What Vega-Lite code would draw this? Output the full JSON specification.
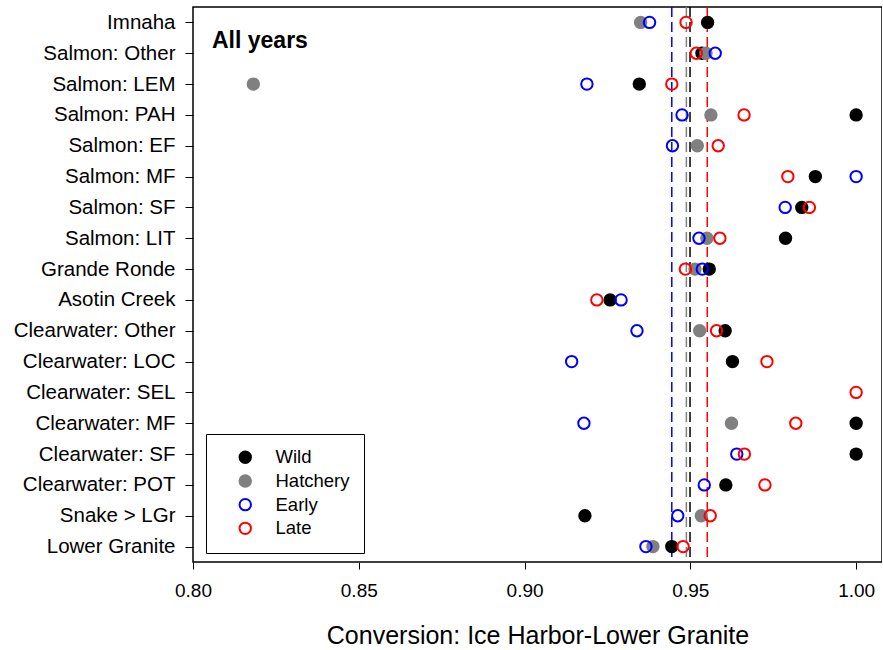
{
  "$schema": "https://vega.github.io/schema/vega-lite/v6.json",
  "width": 689,
  "height": 555,
  "autosize": {"type": "none"},
  "padding": {"left": 193, "top": 7, "right": 0, "bottom": 88},
  "background": "white",
  "config": {
    "font": "Liberation Sans",
    "view": {"stroke": "black", "strokeWidth": 1.5},
    "axis": {"grid": false, "domain": false, "tickColor": "black", "labelColor": "black", "titleColor": "black", "labelFont": "Liberation Sans", "titleFont": "Liberation Sans"},
    "legend": {"orient": "none", "legendX": 13, "legendY": 427, "strokeColor": "black", "padding": 14, "labelFontSize": 18.5, "labelColor": "black", "labelFont": "Liberation Sans", "symbolType": "circle", "symbolSize": 130, "symbolStrokeWidth": 2, "symbolOffset": 16, "labelOffset": 21, "rowPadding": 3.7}
  },
  "title": {"text": "All years", "anchor": "start", "frame": "group", "offset": 0, "dx": 19, "dy": 47, "fontSize": 23, "fontWeight": "bold", "font": "Liberation Sans", "color": "black", "baseline": "top"},
  "datasets": {
    "means": [
      {"series": "Early", "mean": 0.9444},
      {"series": "Hatchery", "mean": 0.9488},
      {"series": "Wild", "mean": 0.9499},
      {"series": "Late", "mean": 0.9551}
    ],
    "points": [
      {"site": "Imnaha", "group": "Wild", "value": 0.9552},
      {"site": "Imnaha", "group": "Hatchery", "value": 0.9350},
      {"site": "Imnaha", "group": "Early", "value": 0.9377},
      {"site": "Imnaha", "group": "Late", "value": 0.9487},
      {"site": "Salmon: Other", "group": "Wild", "value": 0.9535},
      {"site": "Salmon: Other", "group": "Hatchery", "value": 0.9547},
      {"site": "Salmon: Other", "group": "Early", "value": 0.9575},
      {"site": "Salmon: Other", "group": "Late", "value": 0.9518},
      {"site": "Salmon: LEM", "group": "Wild", "value": 0.9346},
      {"site": "Salmon: LEM", "group": "Hatchery", "value": 0.8182},
      {"site": "Salmon: LEM", "group": "Early", "value": 0.9188},
      {"site": "Salmon: LEM", "group": "Late", "value": 0.9444},
      {"site": "Salmon: PAH", "group": "Wild", "value": 1.0},
      {"site": "Salmon: PAH", "group": "Hatchery", "value": 0.9562},
      {"site": "Salmon: PAH", "group": "Early", "value": 0.9475},
      {"site": "Salmon: PAH", "group": "Late", "value": 0.9662},
      {"site": "Salmon: EF", "group": "Hatchery", "value": 0.9521},
      {"site": "Salmon: EF", "group": "Early", "value": 0.9446},
      {"site": "Salmon: EF", "group": "Late", "value": 0.9584},
      {"site": "Salmon: MF", "group": "Wild", "value": 0.9877},
      {"site": "Salmon: MF", "group": "Early", "value": 1.0},
      {"site": "Salmon: MF", "group": "Late", "value": 0.9794},
      {"site": "Salmon: SF", "group": "Wild", "value": 0.9836},
      {"site": "Salmon: SF", "group": "Early", "value": 0.9786},
      {"site": "Salmon: SF", "group": "Late", "value": 0.9859},
      {"site": "Salmon: LIT", "group": "Wild", "value": 0.9787},
      {"site": "Salmon: LIT", "group": "Hatchery", "value": 0.9550},
      {"site": "Salmon: LIT", "group": "Early", "value": 0.9526},
      {"site": "Salmon: LIT", "group": "Late", "value": 0.9589},
      {"site": "Grande Ronde", "group": "Wild", "value": 0.9557},
      {"site": "Grande Ronde", "group": "Hatchery", "value": 0.9514},
      {"site": "Grande Ronde", "group": "Early", "value": 0.9536},
      {"site": "Grande Ronde", "group": "Late", "value": 0.9485},
      {"site": "Asotin Creek", "group": "Wild", "value": 0.9258},
      {"site": "Asotin Creek", "group": "Early", "value": 0.9291},
      {"site": "Asotin Creek", "group": "Late", "value": 0.9218},
      {"site": "Clearwater: Other", "group": "Wild", "value": 0.9605},
      {"site": "Clearwater: Other", "group": "Hatchery", "value": 0.9528},
      {"site": "Clearwater: Other", "group": "Early", "value": 0.9339},
      {"site": "Clearwater: Other", "group": "Late", "value": 0.9579},
      {"site": "Clearwater: LOC", "group": "Wild", "value": 0.9627},
      {"site": "Clearwater: LOC", "group": "Early", "value": 0.9142},
      {"site": "Clearwater: LOC", "group": "Late", "value": 0.9731},
      {"site": "Clearwater: SEL", "group": "Late", "value": 1.0},
      {"site": "Clearwater: MF", "group": "Wild", "value": 1.0},
      {"site": "Clearwater: MF", "group": "Hatchery", "value": 0.9624},
      {"site": "Clearwater: MF", "group": "Early", "value": 0.9179},
      {"site": "Clearwater: MF", "group": "Late", "value": 0.9818},
      {"site": "Clearwater: SF", "group": "Wild", "value": 1.0},
      {"site": "Clearwater: SF", "group": "Early", "value": 0.9640},
      {"site": "Clearwater: SF", "group": "Late", "value": 0.9663},
      {"site": "Clearwater: POT", "group": "Wild", "value": 0.9607},
      {"site": "Clearwater: POT", "group": "Early", "value": 0.9542},
      {"site": "Clearwater: POT", "group": "Late", "value": 0.9725},
      {"site": "Snake > LGr", "group": "Wild", "value": 0.9182},
      {"site": "Snake > LGr", "group": "Hatchery", "value": 0.9533},
      {"site": "Snake > LGr", "group": "Early", "value": 0.9462},
      {"site": "Snake > LGr", "group": "Late", "value": 0.9560},
      {"site": "Lower Granite", "group": "Wild", "value": 0.9444},
      {"site": "Lower Granite", "group": "Hatchery", "value": 0.9387},
      {"site": "Lower Granite", "group": "Early", "value": 0.9366},
      {"site": "Lower Granite", "group": "Late", "value": 0.9478}
    ]
  },
  "layer": [
    {
      "data": {"name": "means"},
      "mark": {"type": "rule", "strokeDash": [10, 5], "strokeWidth": 1.5},
      "encoding": {
        "x": {"field": "mean", "type": "quantitative", "scale": {"domain": [0.8, 1.0078], "nice": false, "zero": false}},
        "color": {"field": "series", "type": "nominal", "scale": {"domain": ["Early", "Hatchery", "Wild", "Late"], "range": ["#0000ff", "#808080", "#000000", "#ff0000"]}, "legend": null}
      }
    },
    {
      "data": {"name": "points"},
      "mark": {"type": "point", "shape": "circle", "size": 130, "strokeWidth": 2, "opacity": 1},
      "encoding": {
        "x": {"field": "value", "type": "quantitative", "scale": {"domain": [0.8, 1.0078], "nice": false, "zero": false},
          "axis": {"title": "Conversion: Ice Harbor-Lower Granite", "values": [0.8, 0.85, 0.9, 0.95, 1.0], "format": ".2f", "tickSize": 7, "labelPadding": 12, "labelFontSize": 19, "titleFontSize": 25, "titleFontWeight": "normal", "titlePadding": 23, "labelFlush": false}},
        "y": {"field": "site", "type": "nominal", "sort": ["Imnaha", "Salmon: Other", "Salmon: LEM", "Salmon: PAH", "Salmon: EF", "Salmon: MF", "Salmon: SF", "Salmon: LIT", "Grande Ronde", "Asotin Creek", "Clearwater: Other", "Clearwater: LOC", "Clearwater: SEL", "Clearwater: MF", "Clearwater: SF", "Clearwater: POT", "Snake > LGr", "Lower Granite"],
          "axis": {"title": null, "tickSize": 8, "labelPadding": 10, "labelFontSize": 20.5}},
        "stroke": {"field": "group", "type": "nominal", "scale": {"domain": ["Wild", "Hatchery", "Early", "Late"], "range": ["#000000", "#808080", "#0000ff", "#ff0000"]}, "title": null},
        "fill": {"field": "group", "type": "nominal", "scale": {"domain": ["Wild", "Hatchery", "Early", "Late"], "range": ["#000000", "#808080", "transparent", "transparent"]}, "title": null}
      }
    }
  ]
}
